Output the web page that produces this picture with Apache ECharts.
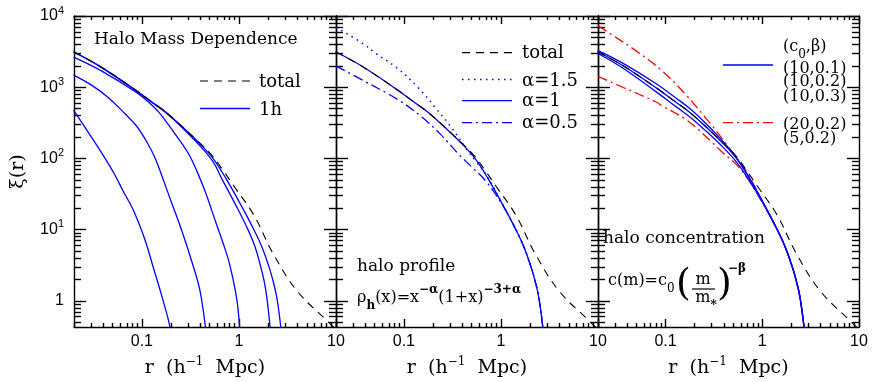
<!DOCTYPE html>
<html>
<head>
<meta charset="utf-8">
<script src="https://cdn.jsdelivr.net/npm/echarts@6/dist/echarts.min.js"></script>
<style>
  html, body { margin: 0; padding: 0; background: #fff; }
  #main { width: 872px; height: 382px; }
</style>
</head>
<body>
<div id="main"></div>
<script>
// axis ranges and ticks
var X_MIN = 0.02, X_MAX = 10;
var Y_MIN = 0.43, Y_MAX = 10000;
var xMajor = [0.1, 1, 10];
var xMajorLabels = ['0.1', '1', '10'];
var xMinor = [0.02, 0.03, 0.04, 0.05, 0.06, 0.07, 0.08, 0.09,
              0.2, 0.3, 0.4, 0.5, 0.6, 0.7, 0.8, 0.9,
              2, 3, 4, 5, 6, 7, 8, 9];
var yMajor = [1, 10, 100, 1000, 10000];
var yMajorLabels = ['1', '10^1', '10^2', '10^3', '10^4'];
var yMinor = [0.5, 0.6, 0.7, 0.8, 0.9,
              2, 3, 4, 5, 6, 7, 8, 9,
              20, 30, 40, 50, 60, 70, 80, 90,
              200, 300, 400, 500, 600, 700, 800, 900,
              2000, 3000, 4000, 5000, 6000, 7000, 8000, 9000];

// [r, xi]
var total = [[0.0198,3150],[0.036,2015],[0.08,980],[0.129,611],[0.177,446],[0.264,275],[0.394,165],[0.541,106],[0.687,68],[0.887,41],[1.41,16.4],[2.27,4.52],[3.97,1.38],[8.15,0.52],[9.6,0.42]];
// panel 1: one-halo term for increasing halo mass cut
var oneHaloA = [[0.0198,3150],[0.036,2015],[0.08,980],[0.129,611],[0.177,446],[0.264,274],[0.394,162],[0.541,100],[0.687,61],[0.75,50],[1.0,25],[1.355,11.5],[1.7,6],[2.01,3.2],[2.25,1.9],[2.46,1.1],[2.71,0.41],[2.85,0.2]];
var oneHaloB = [[0.0198,3120],[0.036,1995],[0.08,968],[0.129,600],[0.177,437],[0.264,266],[0.394,152],[0.541,90],[0.675,50],[0.9,24],[1.2,11],[1.45,6],[1.65,3.27],[1.82,1.9],[1.94,1.11],[2.1,0.41],[2.2,0.2]];
var oneHaloC = [[0.0198,2643],[0.0387,1682],[0.0873,850],[0.12,600],[0.151,440],[0.2,265],[0.26,160],[0.31,110],[0.366,68],[0.45,34],[0.586,12],[0.7,6],[0.8,3.3],[0.946,1.1],[1.02,0.41],[1.06,0.2]];
var oneHaloD = [[0.0198,1479],[0.03,1080],[0.045,720],[0.0675,420],[0.0873,290],[0.11,180],[0.134,108],[0.16,58],[0.2,25],[0.244,12],[0.29,6],[0.333,3.3],[0.38,1.8],[0.41,1.1],[0.454,0.41],[0.475,0.2]];
var oneHaloE = [[0.0198,477],[0.0284,227],[0.0387,119],[0.0516,62],[0.0655,33],[0.08,20],[0.0938,12],[0.11,6.6],[0.128,3.3],[0.1625,1.1],[0.197,0.4],[0.206,0.2]];
// panel 2: inner slope of the halo profile
var alpha15 = [[0.02,6900],[0.0392,3984],[0.0505,3036],[0.0828,1914],[0.139,1003],[0.213,509],[0.318,258],[0.443,135],[0.548,92],[0.7,60],[1.0,25],[1.355,11.5],[1.7,6],[2.01,3.2],[2.25,1.9],[2.46,1.1],[2.71,0.41],[2.85,0.2]];
var alpha10 = oneHaloA;
var alpha05 = [[0.02,1990],[0.0392,1218],[0.0862,674],[0.149,393],[0.239,218],[0.356,120],[0.5,76],[0.7,48],[1.0,24],[1.355,11.5],[1.7,6],[2.01,3.2],[2.25,1.9],[2.46,1.1],[2.71,0.41],[2.85,0.2]];
// panel 3: concentration (c0, beta)
var conc10_01 = [[0.0198,3300],[0.036,2180],[0.08,1120],[0.129,700],[0.177,505],[0.264,305],[0.394,172],[0.541,102],[0.687,63],[1.0,25.5],[1.355,11.6],[1.7,6],[2.01,3.2],[2.25,1.9],[2.46,1.1],[2.71,0.41],[2.85,0.2]];
var conc10_02 = oneHaloA;
var conc10_03 = [[0.0198,3000],[0.036,1860],[0.08,860],[0.129,530],[0.177,385],[0.264,240],[0.394,143],[0.541,89],[0.687,56],[1.0,24.5],[1.355,11.4],[1.7,6],[2.01,3.2],[2.25,1.9],[2.46,1.1],[2.71,0.41],[2.85,0.2]];
var conc20_02 = [[0.02,7300],[0.027,5600],[0.053,3036],[0.0925,1682],[0.161,792],[0.259,372],[0.356,218],[0.5,118],[0.7,62],[1.0,25],[1.355,11.5],[1.7,6],[2.01,3.2],[2.25,1.9],[2.46,1.1],[2.71,0.41],[2.85,0.2]];
var conc5_02 = [[0.02,1420],[0.036,1000],[0.08,620],[0.0925,545],[0.161,355],[0.259,205],[0.386,122],[0.55,80],[0.75,46],[1.0,24],[1.355,11.5],[1.7,6],[2.01,3.2],[2.25,1.9],[2.46,1.1],[2.71,0.41],[2.85,0.2]];

var BLUE = '#0000ff', RED = '#ff0000';
var SERIF = 'DejaVu Serif', SANS = 'Liberation Sans';
var FRAME = {color: '#000', width: 1.4};

function labelFor(values, labels, v) {
  for (var i = 0; i < values.length; i++) {
    if (Math.abs(Math.log10(values[i]) - Math.log10(v)) < 1e-6) return labels[i];
  }
  return '';
}

function fmtY(v) {
  var s = labelFor(yMajor, yMajorLabels, v);
  if (s.indexOf('^') < 0) return s;
  var p = s.split('^');
  return '{b|' + p[0] + '}{s|' + p[1] + '}';
}

function logAxis(gi, min, max, extra) {
  var a = {
    type: 'log', logBase: 10, gridIndex: gi, min: min, max: max,
    splitLine: {show: false}, minorTick: {show: false}, minorSplitLine: {show: false},
    axisPointer: {show: false}, silent: true,
    axisLine: {show: false, onZero: false},
    axisLabel: {show: false}
  };
  for (var k in extra) a[k] = extra[k];
  return a;
}

var xAxes = [], yAxes = [];
for (var g = 0; g < 3; g++) {
  xAxes.push(logAxis(g, X_MIN, X_MAX, {
    position: 'bottom',
    axisLine: {show: true, onZero: false, lineStyle: FRAME},
    axisTick: {show: true, inside: true, length: 8, customValues: xMajor, lineStyle: FRAME},
    axisLabel: {show: true, customValues: xMajor, margin: 7, color: '#000',
      fontFamily: SANS, fontSize: 16,
      formatter: function (v) { return labelFor(xMajor, xMajorLabels, v); }},
    name: '{a|r  (h}{s|−1}{a|  Mpc)}', nameLocation: 'middle', nameGap: 29,
    nameTextStyle: {rich: {
      a: {fontFamily: SERIF, fontSize: 19, color: '#000', lineHeight: 24},
      s: {fontFamily: SERIF, fontSize: 12, color: '#000', lineHeight: 12, verticalAlign: 'top'}
    }}
  }));
  xAxes.push(logAxis(g, X_MIN, X_MAX, {position: 'bottom',
    axisTick: {show: true, inside: true, length: 4, customValues: xMinor, lineStyle: FRAME}}));
  xAxes.push(logAxis(g, X_MIN, X_MAX, {position: 'top',
    axisLine: {show: true, onZero: false, lineStyle: FRAME},
    axisTick: {show: true, inside: true, length: 8, customValues: xMajor, lineStyle: FRAME}}));
  xAxes.push(logAxis(g, X_MIN, X_MAX, {position: 'top',
    axisTick: {show: true, inside: true, length: 4, customValues: xMinor, lineStyle: FRAME}}));

  var yMain = {
    position: 'left',
    axisLine: {show: true, onZero: false, lineStyle: FRAME},
    axisTick: {show: true, inside: true, length: 12, customValues: yMajor, lineStyle: FRAME}
  };
  if (g === 0) {
    yMain.axisLabel = {show: true, customValues: yMajor, margin: 10, formatter: fmtY,
      rich: {
        b: {fontFamily: SANS, fontSize: 16, color: '#000', lineHeight: 22},
        s: {fontFamily: SANS, fontSize: 11, color: '#000', lineHeight: 11, verticalAlign: 'top'}
      },
      fontFamily: SANS, fontSize: 16, color: '#000'};
    yMain.name = 'ξ(r)';
    yMain.nameLocation = 'middle';
    yMain.nameGap = 46;
    yMain.nameRotate = 90;
    yMain.nameTextStyle = {fontFamily: SERIF, fontSize: 19, color: '#000'};
  }
  yAxes.push(logAxis(g, Y_MIN, Y_MAX, yMain));
  yAxes.push(logAxis(g, Y_MIN, Y_MAX, {position: 'left',
    axisTick: {show: true, inside: true, length: 7, customValues: yMinor, lineStyle: FRAME}}));
  yAxes.push(logAxis(g, Y_MIN, Y_MAX, {position: 'right',
    axisLine: {show: true, onZero: false, lineStyle: FRAME},
    axisTick: {show: true, inside: true, length: 12, customValues: yMajor, lineStyle: FRAME}}));
  yAxes.push(logAxis(g, Y_MIN, Y_MAX, {position: 'right',
    axisTick: {show: true, inside: true, length: 7, customValues: yMinor, lineStyle: FRAME}}));
}

function curve(g, data, color, dash, width) {
  return {
    type: 'line', xAxisIndex: 4 * g, yAxisIndex: 4 * g, data: data,
    showSymbol: false, symbol: 'none', smooth: 0.4,
    clip: true, silent: true, animation: false,
    lineStyle: {color: color, width: width || 1.3, type: dash || 'solid'}
  };
}

var DASH = [8, 6], DOT = [1.5, 4.5], DASHDOT = [10, 4, 2, 4];

var series = [
  curve(0, oneHaloE, BLUE), curve(0, oneHaloD, BLUE), curve(0, oneHaloC, BLUE),
  curve(0, oneHaloB, BLUE), curve(0, oneHaloA, BLUE),
  curve(0, total, '#000', DASH, 1.1),
  curve(1, alpha05, BLUE, DASHDOT), curve(1, alpha15, BLUE, DOT, 1.5), curve(1, alpha10, BLUE),
  curve(1, total, '#000', DASH, 1.1),
  curve(2, conc20_02, RED, DASHDOT), curve(2, conc5_02, RED, DASHDOT),
  curve(2, conc10_01, BLUE), curve(2, conc10_02, BLUE), curve(2, conc10_03, BLUE),
  curve(2, total, '#000', DASH, 1.1)
];

function txt(x, y, text, size, extra) {
  var el = {type: 'text', x: x, y: y, silent: true, style: {
    text: text, fill: '#000', fontFamily: SERIF, fontSize: size || 17,
    align: 'left', verticalAlign: 'middle'}};
  if (extra) for (var k in extra) el.style[k] = extra[k];
  return el;
}
function seg(x1, y, x2, color, dash, width) {
  return {type: 'line', silent: true, shape: {x1: x1, y1: y, x2: x2, y2: y},
    style: {stroke: color, lineWidth: width || 1.3, lineDash: dash || null}};
}
var supRich = {
  m: {fontFamily: SERIF, fontSize: 16, lineHeight: 28, fill: '#000'},
  sub: {fontFamily: SERIF, fontSize: 12, lineHeight: 18, verticalAlign: 'bottom', fill: '#000', fontWeight: 'bold'},
  sub0: {fontFamily: SERIF, fontSize: 12, lineHeight: 18, verticalAlign: 'bottom', fill: '#000'},
  sup: {fontFamily: SERIF, fontSize: 12, lineHeight: 12, verticalAlign: 'top', fill: '#000', fontWeight: 'bold'}
};

var graphics = [
  // panel 1
  txt(94, 40, 'Halo Mass Dependence', 17),
  seg(200, 81, 250, '#000', DASH, 1.2), txt(259, 82, 'total', 18),
  seg(200, 108.5, 250, BLUE, null, 1.3), txt(259, 110, '1h', 18),
  // panel 2
  seg(462, 52.7, 512, '#000', DASH, 1.2), txt(522, 53, 'total', 18),
  seg(462, 79.5, 512, BLUE, DOT, 1.5), txt(522, 81, 'α=1.5', 18),
  seg(462, 100.7, 512, BLUE, null, 1.3), txt(522, 101.5, 'α=1', 18),
  seg(462, 122.7, 512, BLUE, DASHDOT, 1.3), txt(522, 123, 'α=0.5', 18),
  txt(357, 267, 'halo profile', 17),
  txt(357, 298, '{m|ρ}{sub|h}{m|(x)=x}{sup|−α}{m|(1+x)}{sup|−3+α}', 16, {rich: supRich}),
  // panel 3
  txt(783, 47, '{m|(c}{sub0|0}{m|,β)}', 16, {rich: supRich}),
  seg(723, 65, 773, BLUE, null, 1.3),
  txt(783, 68.5, '(10,0.1)', 16),
  txt(783, 82, '(10,0.2)', 16),
  txt(783, 96.5, '(10,0.3)', 16),
  seg(723, 122.7, 773, RED, DASHDOT, 1.3),
  txt(783, 125, '(20,0.2)', 16),
  txt(783, 138.5, '(5,0.2)', 16),
  txt(603, 239, 'halo concentration', 17),
  txt(608, 281, '{m|c(m)=c}{sub0|0}', 16, {rich: supRich}),
  txt(676, 285, '(', 38),
  txt(703, 280, 'm', 16, {align: 'center'}),
  {type: 'line', silent: true, shape: {x1: 692, y1: 289, x2: 715, y2: 289}, style: {stroke: '#000', lineWidth: 1.2}},
  txt(706, 298, '{m|m}{sub|*}', 16, {align: 'center', rich: supRich}),
  txt(717, 285, ')', 38),
  txt(728, 269, '−β', 12, {fontWeight: 'bold'})
];

var chart = echarts.init(document.getElementById('main'), null, {renderer: 'canvas'});
chart.setOption({
  animation: false,
  backgroundColor: '#fff',
  grid: [
    {left: 74, top: 16, width: 262, height: 311, outerBoundsMode: 'none'},
    {left: 336, top: 16, width: 262, height: 311, outerBoundsMode: 'none'},
    {left: 598, top: 16, width: 261, height: 311, outerBoundsMode: 'none'}
  ],
  xAxis: xAxes,
  yAxis: yAxes,
  series: series,
  graphic: graphics
});
</script>
</body>
</html>
